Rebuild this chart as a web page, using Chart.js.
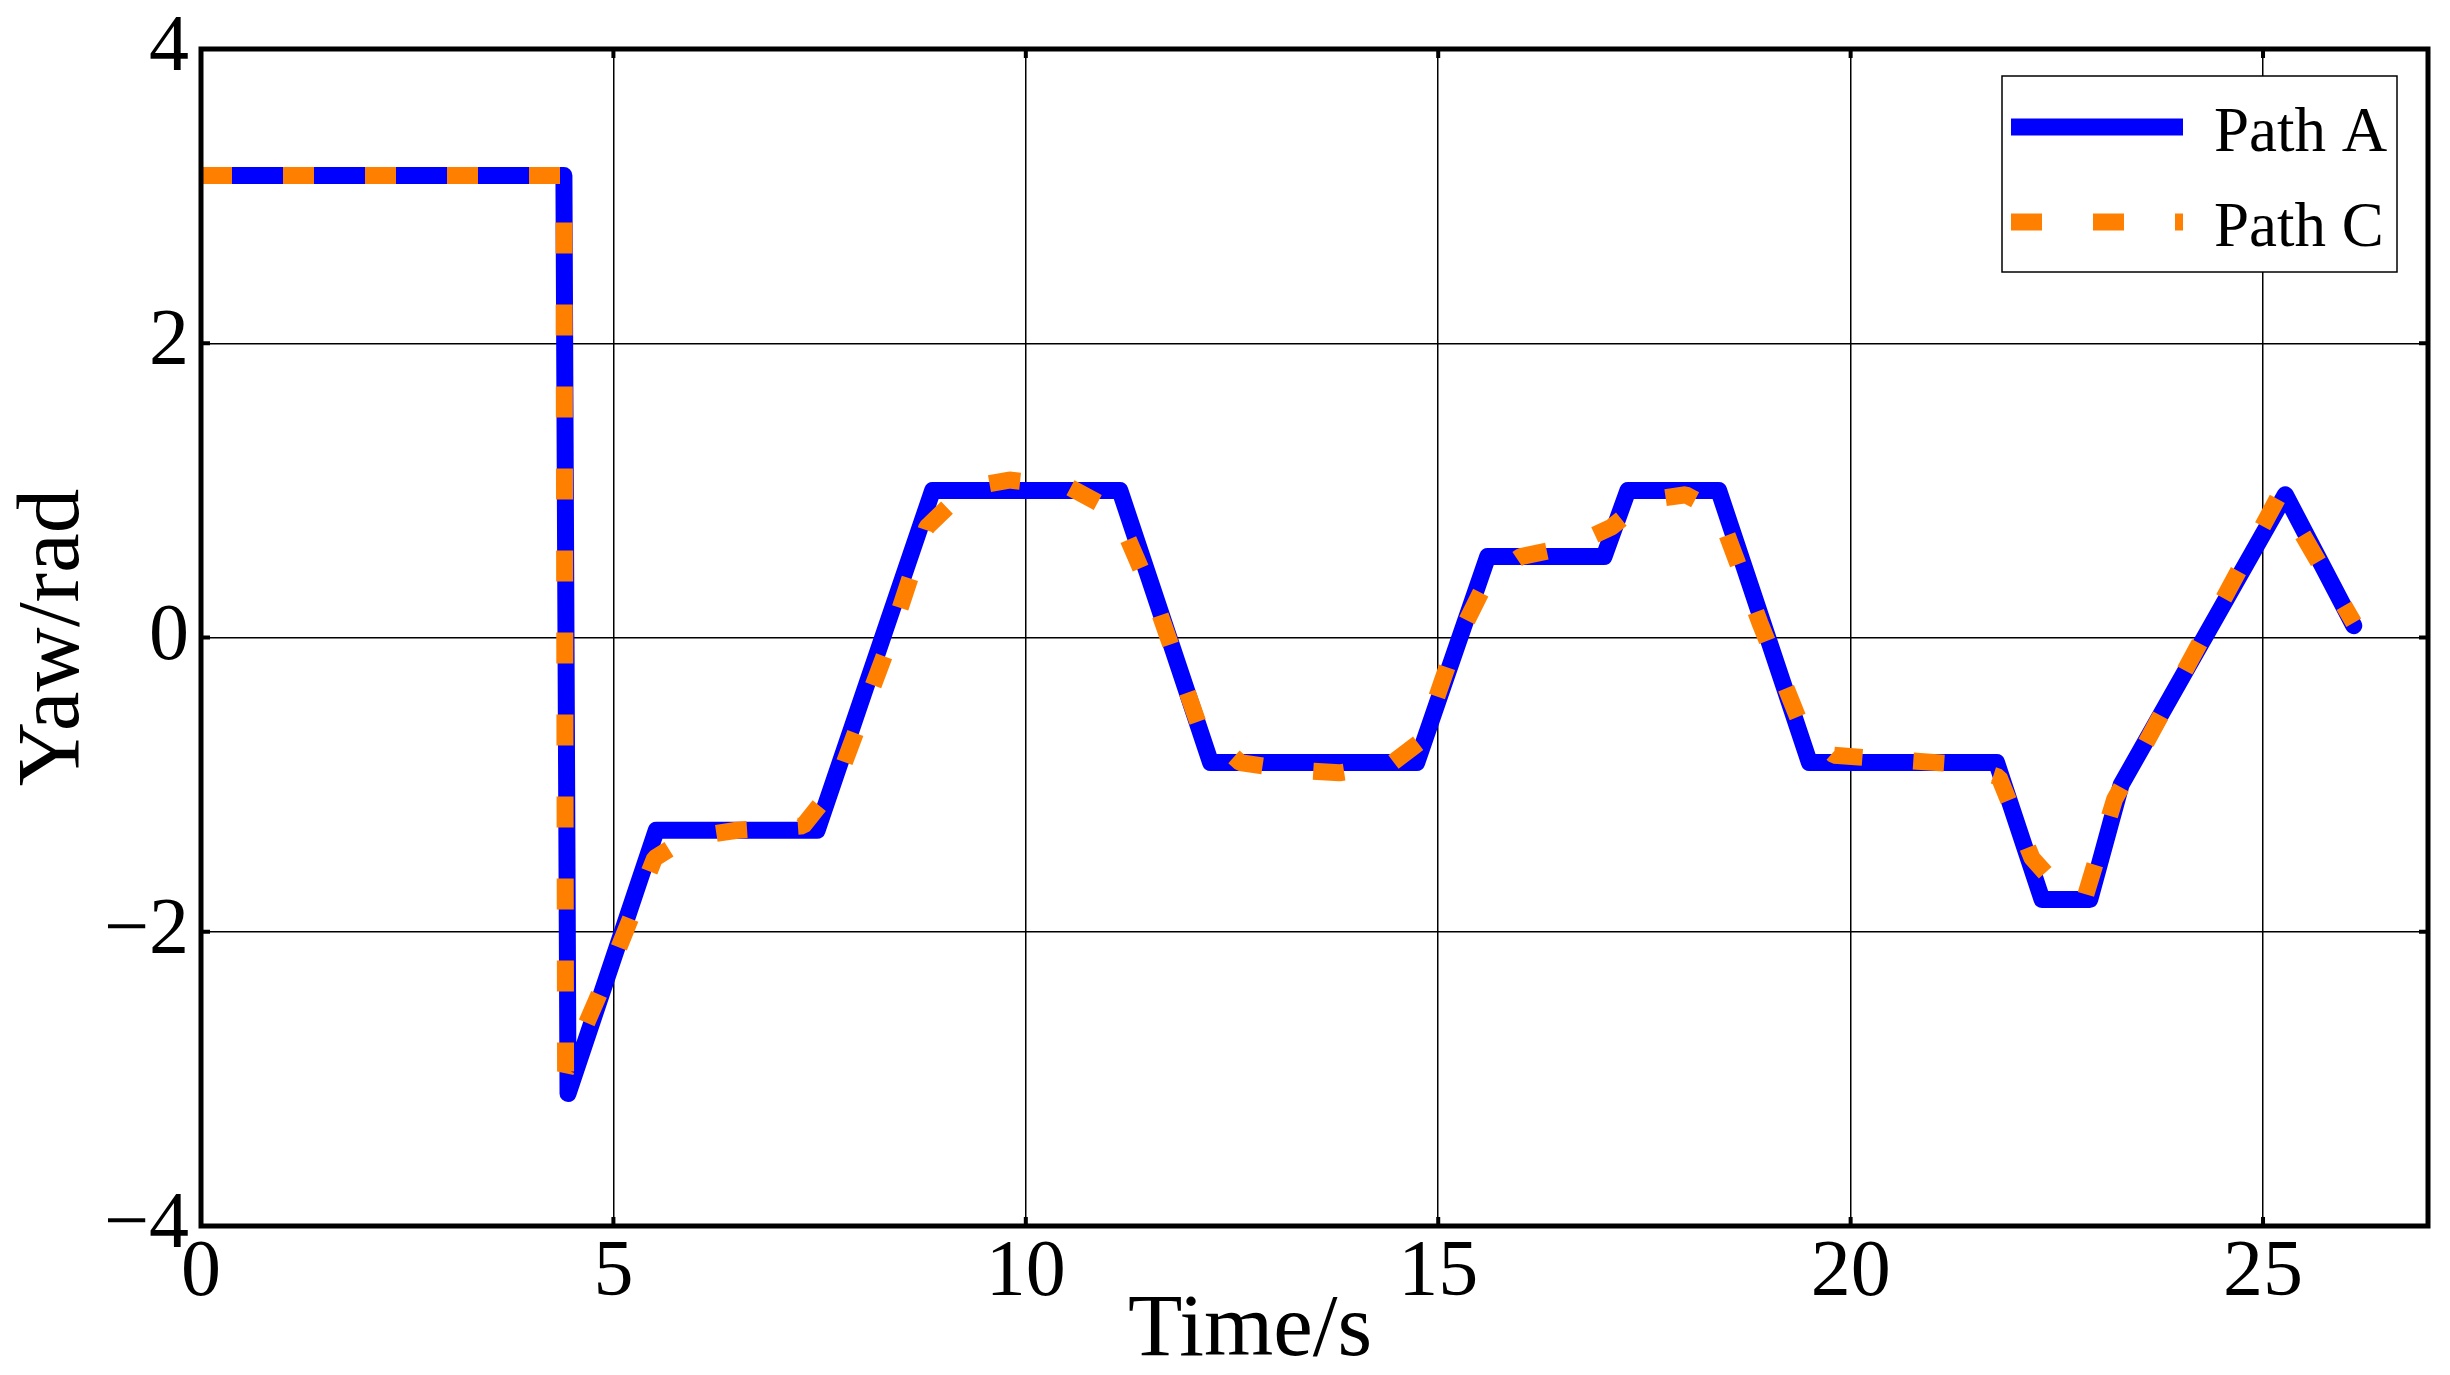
<!DOCTYPE html>
<html>
<head>
<meta charset="utf-8">
<script src="https://cdn.jsdelivr.net/npm/chart.js@4.4.1/dist/chart.umd.min.js"></script>
<style>
    html, body { margin: 0; padding: 0; background: #fff; }
    #wrap { width: 2450px; height: 1375px; }
</style>
</head>
<body>
<div id="wrap"><canvas id="yaw-chart"></canvas></div>
<script>
// Data (time in s, yaw in rad)
const pathATime = [0, 4.4, 4.45, 5.52, 7.47, 8.87, 11.14, 12.24, 14.74, 15.6, 17.01, 17.3, 18.4, 19.5, 21.77, 22.32, 22.9, 23.28, 25.27, 26.1];
const pathAYaw  = [3.14, 3.14, -3.1, -1.31, -1.31, 1.0, 1.0, -0.85, -0.85, 0.55, 0.55, 1.0, 1.0, -0.85, -0.85, -1.78, -1.78, -1.0, 0.97, 0.08];

const pathCTime = [0, 4.4, 4.42, 5.0, 5.5, 5.9, 6.5, 7.3, 7.7, 8.3, 8.8, 9.3, 9.8, 10.5, 11.1, 11.6, 12.1, 12.6, 13.2, 13.8, 14.4, 14.8, 15.2, 15.6, 16.0, 16.6, 17.1, 17.5, 18.0, 18.4, 18.9, 19.4, 19.8, 20.5, 21.3, 21.8, 22.2, 22.6, 22.85, 23.2, 23.5, 25.2, 26.1];
const pathCYaw  = [3.14, 3.14, -2.95, -2.2, -1.5, -1.36, -1.31, -1.28, -1.0, -0.1, 0.75, 1.02, 1.07, 1.03, 0.85, 0.2, -0.6, -0.85, -0.9, -0.92, -0.87, -0.7, -0.05, 0.4, 0.55, 0.62, 0.75, 0.93, 0.97, 0.85, 0.1, -0.6, -0.8, -0.83, -0.86, -0.95, -1.5, -1.75, -1.75, -1.1, -0.8, 0.97, 0.1];

const xTicks = [0, 5, 10, 15, 20, 25];
const yTicks = [-4, -2, 0, 2, 4];

const seriesNames = ['Path A', 'Path C'];

const serif = "'Liberation Serif', 'Times New Roman', serif";

function toPoints(xs, ys) {
    return xs.map((x, i) => ({ x: x, y: ys[i] }));
}

// Frame, inward ticks, legend box and axis titles
const framePlugin = {
    id: 'framePlugin',
    afterDraw(chart) {
        const ctx = chart.ctx;
        const a = chart.chartArea;
        const xs = chart.scales.x;
        const ys = chart.scales.y;
        ctx.save();

        // inward tick marks
        ctx.strokeStyle = '#000';
        ctx.lineWidth = 4;
        xTicks.forEach(v => {
            const px = xs.getPixelForValue(v);
            ctx.beginPath();
            ctx.moveTo(px, a.bottom); ctx.lineTo(px, a.bottom - 9);
            ctx.moveTo(px, a.top); ctx.lineTo(px, a.top + 9);
            ctx.stroke();
        });
        yTicks.forEach(v => {
            const py = ys.getPixelForValue(v);
            ctx.beginPath();
            ctx.moveTo(a.left, py); ctx.lineTo(a.left + 9, py);
            ctx.moveTo(a.right, py); ctx.lineTo(a.right - 9, py);
            ctx.stroke();
        });

        // thick frame
        ctx.lineWidth = 5;
        ctx.strokeRect(a.left, a.top, a.right - a.left, a.bottom - a.top);

        // legend
        const lx = 2002, ly = 76, lw = 395, lh = 196;
        ctx.fillStyle = '#fff';
        ctx.fillRect(lx, ly, lw, lh);
        ctx.lineWidth = 1.5;
        ctx.strokeRect(lx, ly, lw, lh);
        chart.data.datasets.forEach((ds, i) => {
            const rowY = 127 + i * 95;
            ctx.beginPath();
            ctx.strokeStyle = ds.borderColor;
            ctx.lineWidth = ds.borderWidth;
            ctx.lineCap = 'butt';
            ctx.setLineDash(ds.borderDash || []);
            ctx.moveTo(2011, rowY);
            ctx.lineTo(2183, rowY);
            ctx.stroke();
            ctx.setLineDash([]);
            ctx.fillStyle = '#000';
            ctx.font = '63px ' + serif;
            ctx.textAlign = 'left';
            ctx.textBaseline = 'alphabetic';
            ctx.fillText(ds.label, 2214, rowY + 24);
        });

        // axis titles
        ctx.fillStyle = '#000';
        ctx.font = '89px ' + serif;
        ctx.textAlign = 'center';
        ctx.textBaseline = 'alphabetic';
        ctx.fillText('Time/s', 1250, 1355);

        ctx.translate(78, (a.top + a.bottom) / 2);
        ctx.rotate(-Math.PI / 2);
        ctx.fillText('Yaw/rad', 0, 0);
        ctx.restore();
    }
};

document.addEventListener('DOMContentLoaded', function() {
    const ctx = document.getElementById('yaw-chart');
    new Chart(ctx, {
        type: 'line',
        data: {
            datasets: [{
                label: seriesNames[0],
                data: toPoints(pathATime, pathAYaw),
                borderColor: '#0000ff',
                borderWidth: 17,
                borderJoinStyle: 'round',
                borderCapStyle: 'round',
                pointRadius: 0,
                tension: 0,
                fill: false,
                order: 1
            }, {
                label: seriesNames[1],
                data: toPoints(pathCTime, pathCYaw),
                borderColor: '#ff8000',
                borderWidth: 17,
                borderDash: [31, 51],
                borderCapStyle: 'butt',
                borderJoinStyle: 'bevel',
                pointRadius: 0,
                tension: 0,
                fill: false,
                order: 0
            }]
        },
        options: {
            responsive: true,
            maintainAspectRatio: false,
            animation: false,
            layout: {
                padding: { top: 49, right: 22, left: 0, bottom: 0 }
            },
            plugins: {
                legend: { display: false },
                tooltip: { enabled: false }
            },
            scales: {
                x: {
                    type: 'linear',
                    min: 0,
                    max: 27,
                    afterBuildTicks: function(scale) {
                        scale.ticks = xTicks.map(v => ({ value: v }));
                    },
                    afterFit: function(scale) {
                        scale.height = 149;
                        scale.paddingLeft = 0;
                        scale.paddingRight = 0;
                    },
                    grid: {
                        color: '#000',
                        lineWidth: 1.5,
                        drawTicks: false
                    },
                    border: { display: false },
                    ticks: {
                        color: '#000',
                        padding: 0,
                        maxRotation: 0,
                        font: { family: serif, size: 80 }
                    }
                },
                y: {
                    type: 'linear',
                    min: -4,
                    max: 4,
                    afterBuildTicks: function(scale) {
                        scale.ticks = yTicks.map(v => ({ value: v }));
                    },
                    afterFit: function(scale) {
                        scale.width = 201;
                        scale.paddingTop = 0;
                        scale.paddingBottom = 0;
                    },
                    grid: {
                        color: '#000',
                        lineWidth: 1.5,
                        drawTicks: false
                    },
                    border: { display: false },
                    ticks: {
                        color: '#000',
                        padding: 12,
                        font: { family: serif, size: 80 },
                        callback: function(value) {
                            return String(value).replace('-', '\u2212');
                        }
                    }
                }
            }
        },
        plugins: [framePlugin]
    });
});
</script>
</body>
</html>
